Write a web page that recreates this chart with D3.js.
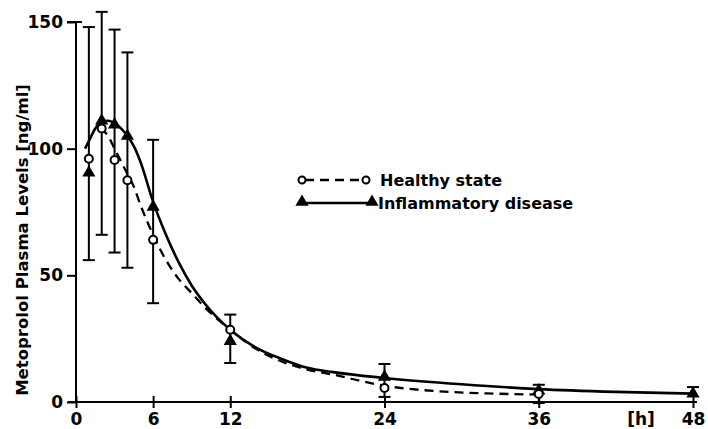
<!DOCTYPE html>
<html>
<head>
<meta charset="utf-8">
<script src="https://cdn.jsdelivr.net/npm/d3@7"></script>
<style>
  body { margin: 0; background: #fff; }
  svg { display: block; }
  text { font-family: 'DejaVu Sans', sans-serif; font-weight: bold; fill: #000; }
</style>
</head>
<body>
<div class="container"></div>
<script>
// sampling times [h]
const times = [1, 2, 3, 4, 6, 12, 24, 36, 48]
const healthy = [96, 108, 95.5, 87.5, 64, 28.5, 5.5, 3.2]
const inflamed = [90.5, 111, 109.5, 105, 77, 24, 9.9, 4.5, 3.3]
// error bar ends per time
const errUpper = [148, 154, 147, 138, 103.5, 34.5, 15, 6.8, 5.9]
const errLower = [56, 66, 59, 53, 39, 15.4, 2, -0.4, 3.3]

// fitted curves
const healthyCurveT = [1.9, 2.5, 3, 3.5, 4, 4.5, 5, 6, 7, 8, 9, 10, 12, 14, 16, 18, 20, 24, 28, 32, 36]
const healthyCurveV = [108, 105, 100, 95, 90, 85, 78, 66, 56, 48.5, 43, 37.5, 28.5, 21, 16, 12.8, 10.8, 6.4, 4.3, 3.4, 2.9]
const inflCurveT = [0.7, 1, 1.5, 2, 2.5, 3, 3.5, 4, 4.5, 5, 6, 7, 8, 9, 10, 12, 14, 16, 18, 20, 24, 30, 36, 42, 48]
const inflCurveV = [100, 103, 108, 110.5, 111, 110, 108, 105, 101, 95, 79, 66, 55, 46, 39, 28.5, 21.5, 17, 13.5, 11.8, 9.5, 7, 5.1, 4, 3.3]

const xTicks = [0, 6, 12, 24, 36, 48]
const yTicks = [0, 50, 100, 150]

const w = 708
const h = 429

const svg = d3.select('.container')
  .append('svg')
  .attr('width', w)
  .attr('height', h)

const x = d3.scaleLinear().domain([0, 48]).range([76, 693])
const y = d3.scaleLinear().domain([0, 150]).range([402, 22])

// axes
const xAxis = d3.axisBottom(x).tickValues(xTicks).tickSize(6).tickFormat(d3.format('d'))
const gx = svg.append('g')
  .attr('transform', `translate(0, ${y(0)})`)
  .call(xAxis)
gx.select('.domain').remove()
gx.append('line').attr('x1', 68).attr('x2', 697).attr('stroke', '#000').attr('stroke-width', 2)
gx.selectAll('.tick line').attr('y1', -6).attr('y2', 6).attr('stroke-width', 2)
gx.selectAll('.tick text').attr('y', 11).attr('font-size', 17).attr('font-family', null)

gx.append('text')
  .attr('x', 641)
  .attr('y', 11)
  .attr('dy', '0.71em')
  .attr('text-anchor', 'middle')
  .attr('font-size', 17)
  .text('[h]')

const yAxis = d3.axisLeft(y).tickValues(yTicks).tickSize(9).tickPadding(4)
const gy = svg.append('g')
  .attr('transform', `translate(${x(0)}, 0)`)
  .call(yAxis)
gy.select('.domain').remove()
gy.append('line').attr('y1', y(0)).attr('y2', y(150)).attr('stroke', '#000').attr('stroke-width', 2)
gy.selectAll('.tick line').attr('stroke-width', 2)
gy.selectAll('.tick text').attr('font-size', 17).attr('font-family', null)
// cap on top of the axis
gy.append('line').attr('x1', -9).attr('x2', 6).attr('y1', y(150)).attr('y2', y(150))
  .attr('stroke', '#000').attr('stroke-width', 2)

svg.append('text')
  .attr('transform', `translate(22, 240) rotate(-90)`)
  .attr('text-anchor', 'middle')
  .attr('dy', '0.35em')
  .attr('font-size', 16.5)
  .text('Metoprolol Plasma Levels [ng/ml]')

// error bars
const bars = svg.append('g').attr('stroke', '#000').attr('stroke-width', 2)
times.forEach((t, i) => {
  bars.append('line').attr('x1', x(t)).attr('x2', x(t)).attr('y1', y(errLower[i])).attr('y2', y(errUpper[i]))
  bars.append('line').attr('x1', x(t) - 6).attr('x2', x(t) + 6).attr('y1', y(errUpper[i])).attr('y2', y(errUpper[i]))
  if (errLower[i] !== inflamed[i]) {
    bars.append('line').attr('x1', x(t) - 6).attr('x2', x(t) + 6).attr('y1', y(errLower[i])).attr('y2', y(errLower[i]))
  }
})

// curves
const line = d3.line().x(d => x(d[0])).y(d => y(d[1])).curve(d3.curveMonotoneX)

svg.append('path')
  .attr('d', line(inflCurveT.map((t, i) => [t, inflCurveV[i]])))
  .attr('fill', 'none')
  .attr('stroke', '#000')
  .attr('stroke-width', 2.6)

svg.append('path')
  .attr('d', line(healthyCurveT.map((t, i) => [t, healthyCurveV[i]])))
  .attr('fill', 'none')
  .attr('stroke', '#000')
  .attr('stroke-width', 2.3)
  .attr('stroke-dasharray', '9,6')

// markers
const tri = d3.symbol().type(d3.symbolTriangle).size(75)

svg.selectAll('.tri')
  .data(inflamed)
  .enter()
  .append('path')
  .attr('class', 'tri')
  .attr('d', tri)
  .attr('transform', (d, i) => `translate(${x(times[i])}, ${y(d)})`)
  .attr('fill', '#000')

svg.selectAll('.circ')
  .data(healthy)
  .enter()
  .append('circle')
  .attr('class', 'circ')
  .attr('cx', (d, i) => x(times[i]))
  .attr('cy', d => y(d))
  .attr('r', 4)
  .attr('fill', '#fff')
  .attr('stroke', '#000')
  .attr('stroke-width', 2)

// legend
const lg = svg.append('g')
lg.append('line').attr('x1', 302).attr('x2', 365).attr('y1', 180).attr('y2', 180)
  .attr('stroke', '#000').attr('stroke-width', 2.4).attr('stroke-dasharray', '9,6').attr('stroke-dashoffset', -3)
lg.selectAll('.lc').data([302, 366]).enter().append('circle')
  .attr('cx', d => d).attr('cy', 180).attr('r', 3.5)
  .attr('fill', '#fff').attr('stroke', '#000').attr('stroke-width', 2)
lg.append('text').attr('x', 380).attr('y', 180).attr('dy', '0.35em').attr('font-size', 16).text('Healthy state')

lg.append('line').attr('x1', 302).attr('x2', 372).attr('y1', 203).attr('y2', 203)
  .attr('stroke', '#000').attr('stroke-width', 2.6)
lg.selectAll('.lt').data([302, 372]).enter().append('path')
  .attr('d', tri)
  .attr('transform', d => `translate(${d}, 202)`)
  .attr('fill', '#000')
lg.append('text').attr('x', 378).attr('y', 203).attr('dy', '0.35em').attr('font-size', 16).text('Inflammatory disease')
</script>
</body>
</html>
